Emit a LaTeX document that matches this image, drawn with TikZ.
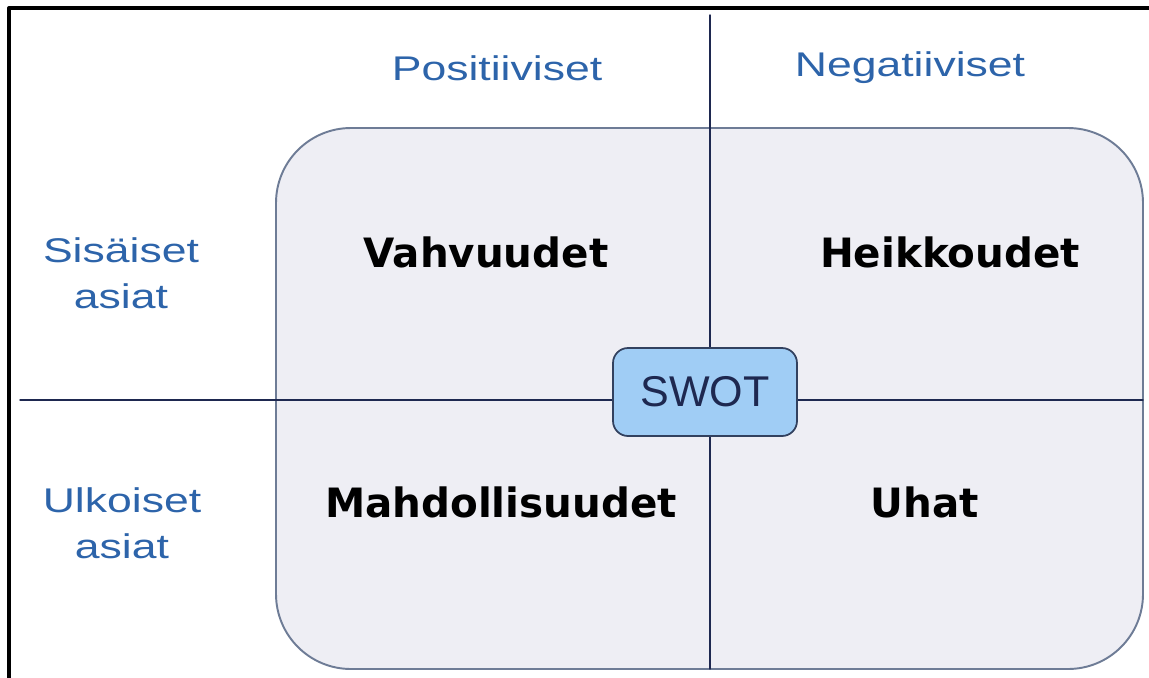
\documentclass[tikz,border=0pt]{standalone}
\usepackage{fontspec}
\setmainfont{Liberation Sans}
\newfontfamily\boldfont{DejaVu Sans}
\usetikzlibrary{positioning}
\definecolor{sideblue}{RGB}{45,100,170}
\definecolor{quadfill}{RGB}{238,238,244}
\definecolor{quadline}{RGB}{110,124,150}
\definecolor{axisline}{RGB}{30,40,80}
\definecolor{swotfill}{RGB}{160,205,245}
\definecolor{swotline}{RGB}{50,65,95}
\newcommand{\wide}[1]{\scalebox{1.3}[1]{#1}}

\begin{document}
\begin{tikzpicture}[x=0.02cm,y=-0.02cm, line join=round, line cap=round,
	side/.style={text=sideblue, font=\fontsize{19.5}{26}\selectfont, align=center, inner sep=0pt},
	quad/.style={font=\boldfont\bfseries\fontsize{23}{27}\selectfont, anchor=base, inner sep=0pt},
	swotbox/.style={draw=swotline, line width=1pt, fill=swotfill, rounded corners=0.3cm,
		minimum width=3.68cm, minimum height=1.76cm, font=\fontsize{24.5}{28}\selectfont, text=axisline}]
	\useasboundingbox (0,0) rectangle (1149,677);
	% frame
	\draw[line width=2.3pt, line cap=rect] (9,677)--(9,8)--(1149,8);
	% quadrant area
	\draw[draw=quadline, line width=1.1pt, fill=quadfill, rounded corners=1.5cm] (276,128) rectangle (1143,669);
	% axes
	\coordinate (top) at (710,15); \coordinate (bottom) at (710,669);
	\coordinate (left) at (20,400); \coordinate (right) at (1143,400);
	\draw[axisline, line width=0.8pt] (top)--(bottom);
	\draw[axisline, line width=0.8pt] (left)--(right);
	% headings
	\node[side] (pos) at (497,68) {\wide{Positiiviset}};
	\node[side] (neg) at (910,68) {\wide{Negatiiviset}};
	\node[side] (inner) at (121,273) {\wide{Sisäiset}\\\wide{asiat}};
	\node[side] (outer) at (122,523) {\wide{Ulkoiset}\\\wide{asiat}};
	% quadrants
	\node[quad] (strengths) at (486,267) {Vahvuudet};
	\node[quad] (weaknesses) at (950,267) {Heikkoudet};
	\node[quad] (opportunities) at (501,517) {Mahdollisuudet};
	\node[quad] (threats) at (925,517) {Uhat};
	\node[swotbox] (swot) at (705,392) {SWOT};
\end{tikzpicture}
\end{document}
